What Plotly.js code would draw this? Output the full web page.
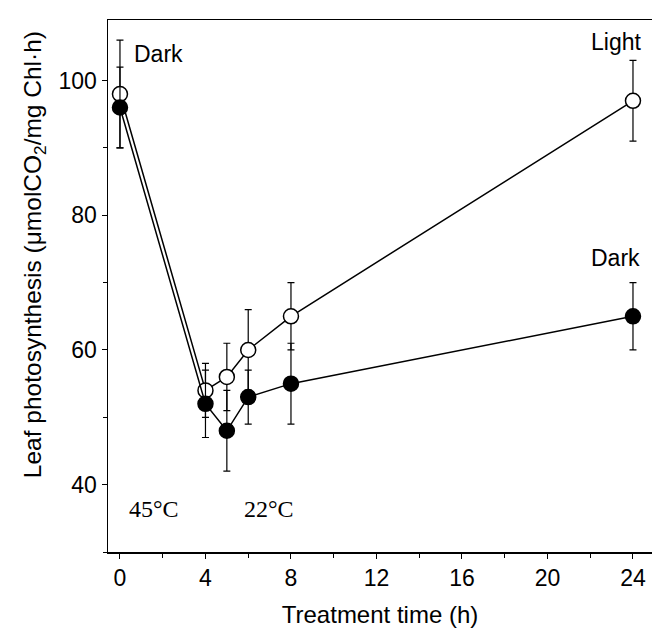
<!DOCTYPE html>
<html>
<head>
<meta charset="utf-8">
<script src="https://cdn.plot.ly/plotly-3.0.1.min.js"></script>
<style>html,body{margin:0;padding:0;background:#fff;}#chart{width:652px;height:634px;}</style>
</head>
<body>
<div id="chart"></div>
<script>
// Treatment time (h)
var hours = [0, 4, 5, 6, 8, 24];
// Light recovery (open circles)
var lightValues = [98, 54, 56, 60, 65, 97];
var lightErrors = [8, 4, 5, 6, 5, 6];
// Dark recovery (filled circles)
var darkValues = [96, 52, 48, 53, 55, 65];
var darkErrors = [6, 5, 6, 4, 6, 5];
var xTicks = [0, 4, 8, 12, 16, 20, 24];
var yTicks = [40, 60, 80, 100];

var fontSans = "Liberation Sans, Arial, sans-serif";
var fontSerif = "Liberation Serif, Times New Roman, serif";

var traces = [
  {
    x: hours, y: lightValues, type: 'scatter', mode: 'lines+markers', name: 'Light',
    line: {color: '#000', width: 1.5},
    marker: {symbol: 'circle', size: 15, color: '#fff', line: {color: '#000', width: 1.5}},
    error_y: {type: 'data', array: lightErrors, visible: true, color: '#000', thickness: 1.2, width: 3.5}
  },
  {
    x: hours, y: darkValues, type: 'scatter', mode: 'lines+markers', name: 'Dark',
    line: {color: '#000', width: 1.5},
    marker: {symbol: 'circle', size: 15, color: '#000', line: {color: '#000', width: 1.5}},
    error_y: {type: 'data', array: darkErrors, visible: true, color: '#000', thickness: 1.2, width: 3.5}
  }
];

var layout = {
  width: 652, height: 634,
  margin: {l: 108, r: 0, t: 20, b: 82},
  paper_bgcolor: '#fff', plot_bgcolor: '#fff',
  showlegend: false,
  font: {family: fontSans, size: 23, color: '#000'},
  xaxis: {
    range: [-0.56, 24.89],
    tickvals: xTicks, ticktext: xTicks.map(String),
    ticks: 'outside', ticklen: 5, tickwidth: 1, tickcolor: '#000',
    minor: {dtick: 2, tick0: 0, ticks: 'outside', ticklen: 4, tickcolor: '#000', showgrid: false},
    showline: true, linecolor: '#000', linewidth: 1.5, mirror: true,
    showgrid: false, zeroline: false,
    tickfont: {family: fontSans, size: 23, color: '#000'},
    title: {text: 'Treatment time (h)', font: {family: fontSans, size: 24, color: '#000'}, standoff: 16}
  },
  yaxis: {
    range: [30, 109],
    tickvals: yTicks, ticktext: yTicks.map(String),
    ticks: 'outside', ticklen: 5, tickwidth: 1, tickcolor: '#000',
    minor: {dtick: 10, tick0: 0, ticks: 'outside', ticklen: 4, tickcolor: '#000', showgrid: false},
    showline: true, linecolor: '#000', linewidth: 1.5,
    showgrid: false, zeroline: false,
    tickfont: {family: fontSans, size: 23, color: '#000'}
  },
  annotations: [
    {text: 'Leaf photosynthesis (μmolCO<sub>2</sub>/mg Chl·h)', xref: 'paper', yref: 'paper',
     x: -0.136, y: 0.558, textangle: -90, showarrow: false, xanchor: 'center', yanchor: 'middle',
     font: {family: fontSans, size: 24.5, color: '#000'}},
    {text: 'Dark', xref: 'x', yref: 'y', x: 0.56, y: 104, xanchor: 'left', yanchor: 'middle', showarrow: false,
     font: {family: fontSans, size: 23, color: '#000'}},
    {text: 'Light', xref: 'x', yref: 'y', x: 23.2, y: 105.8, xanchor: 'center', yanchor: 'middle', showarrow: false,
     font: {family: fontSans, size: 23, color: '#000'}},
    {text: 'Dark', xref: 'x', yref: 'y', x: 23.2, y: 73.7, xanchor: 'center', yanchor: 'middle', showarrow: false,
     font: {family: fontSans, size: 23, color: '#000'}},
    {text: '45°C', xref: 'x', yref: 'y', x: 1.6, y: 36.4, xanchor: 'center', yanchor: 'middle', showarrow: false,
     font: {family: fontSerif, size: 24, color: '#000'}},
    {text: '22°C', xref: 'x', yref: 'y', x: 6.97, y: 36.4, xanchor: 'center', yanchor: 'middle', showarrow: false,
     font: {family: fontSerif, size: 24, color: '#000'}}
  ]
};

Plotly.newPlot('chart', traces, layout, {displayModeBar: false, staticPlot: true});
</script>
</body>
</html>
